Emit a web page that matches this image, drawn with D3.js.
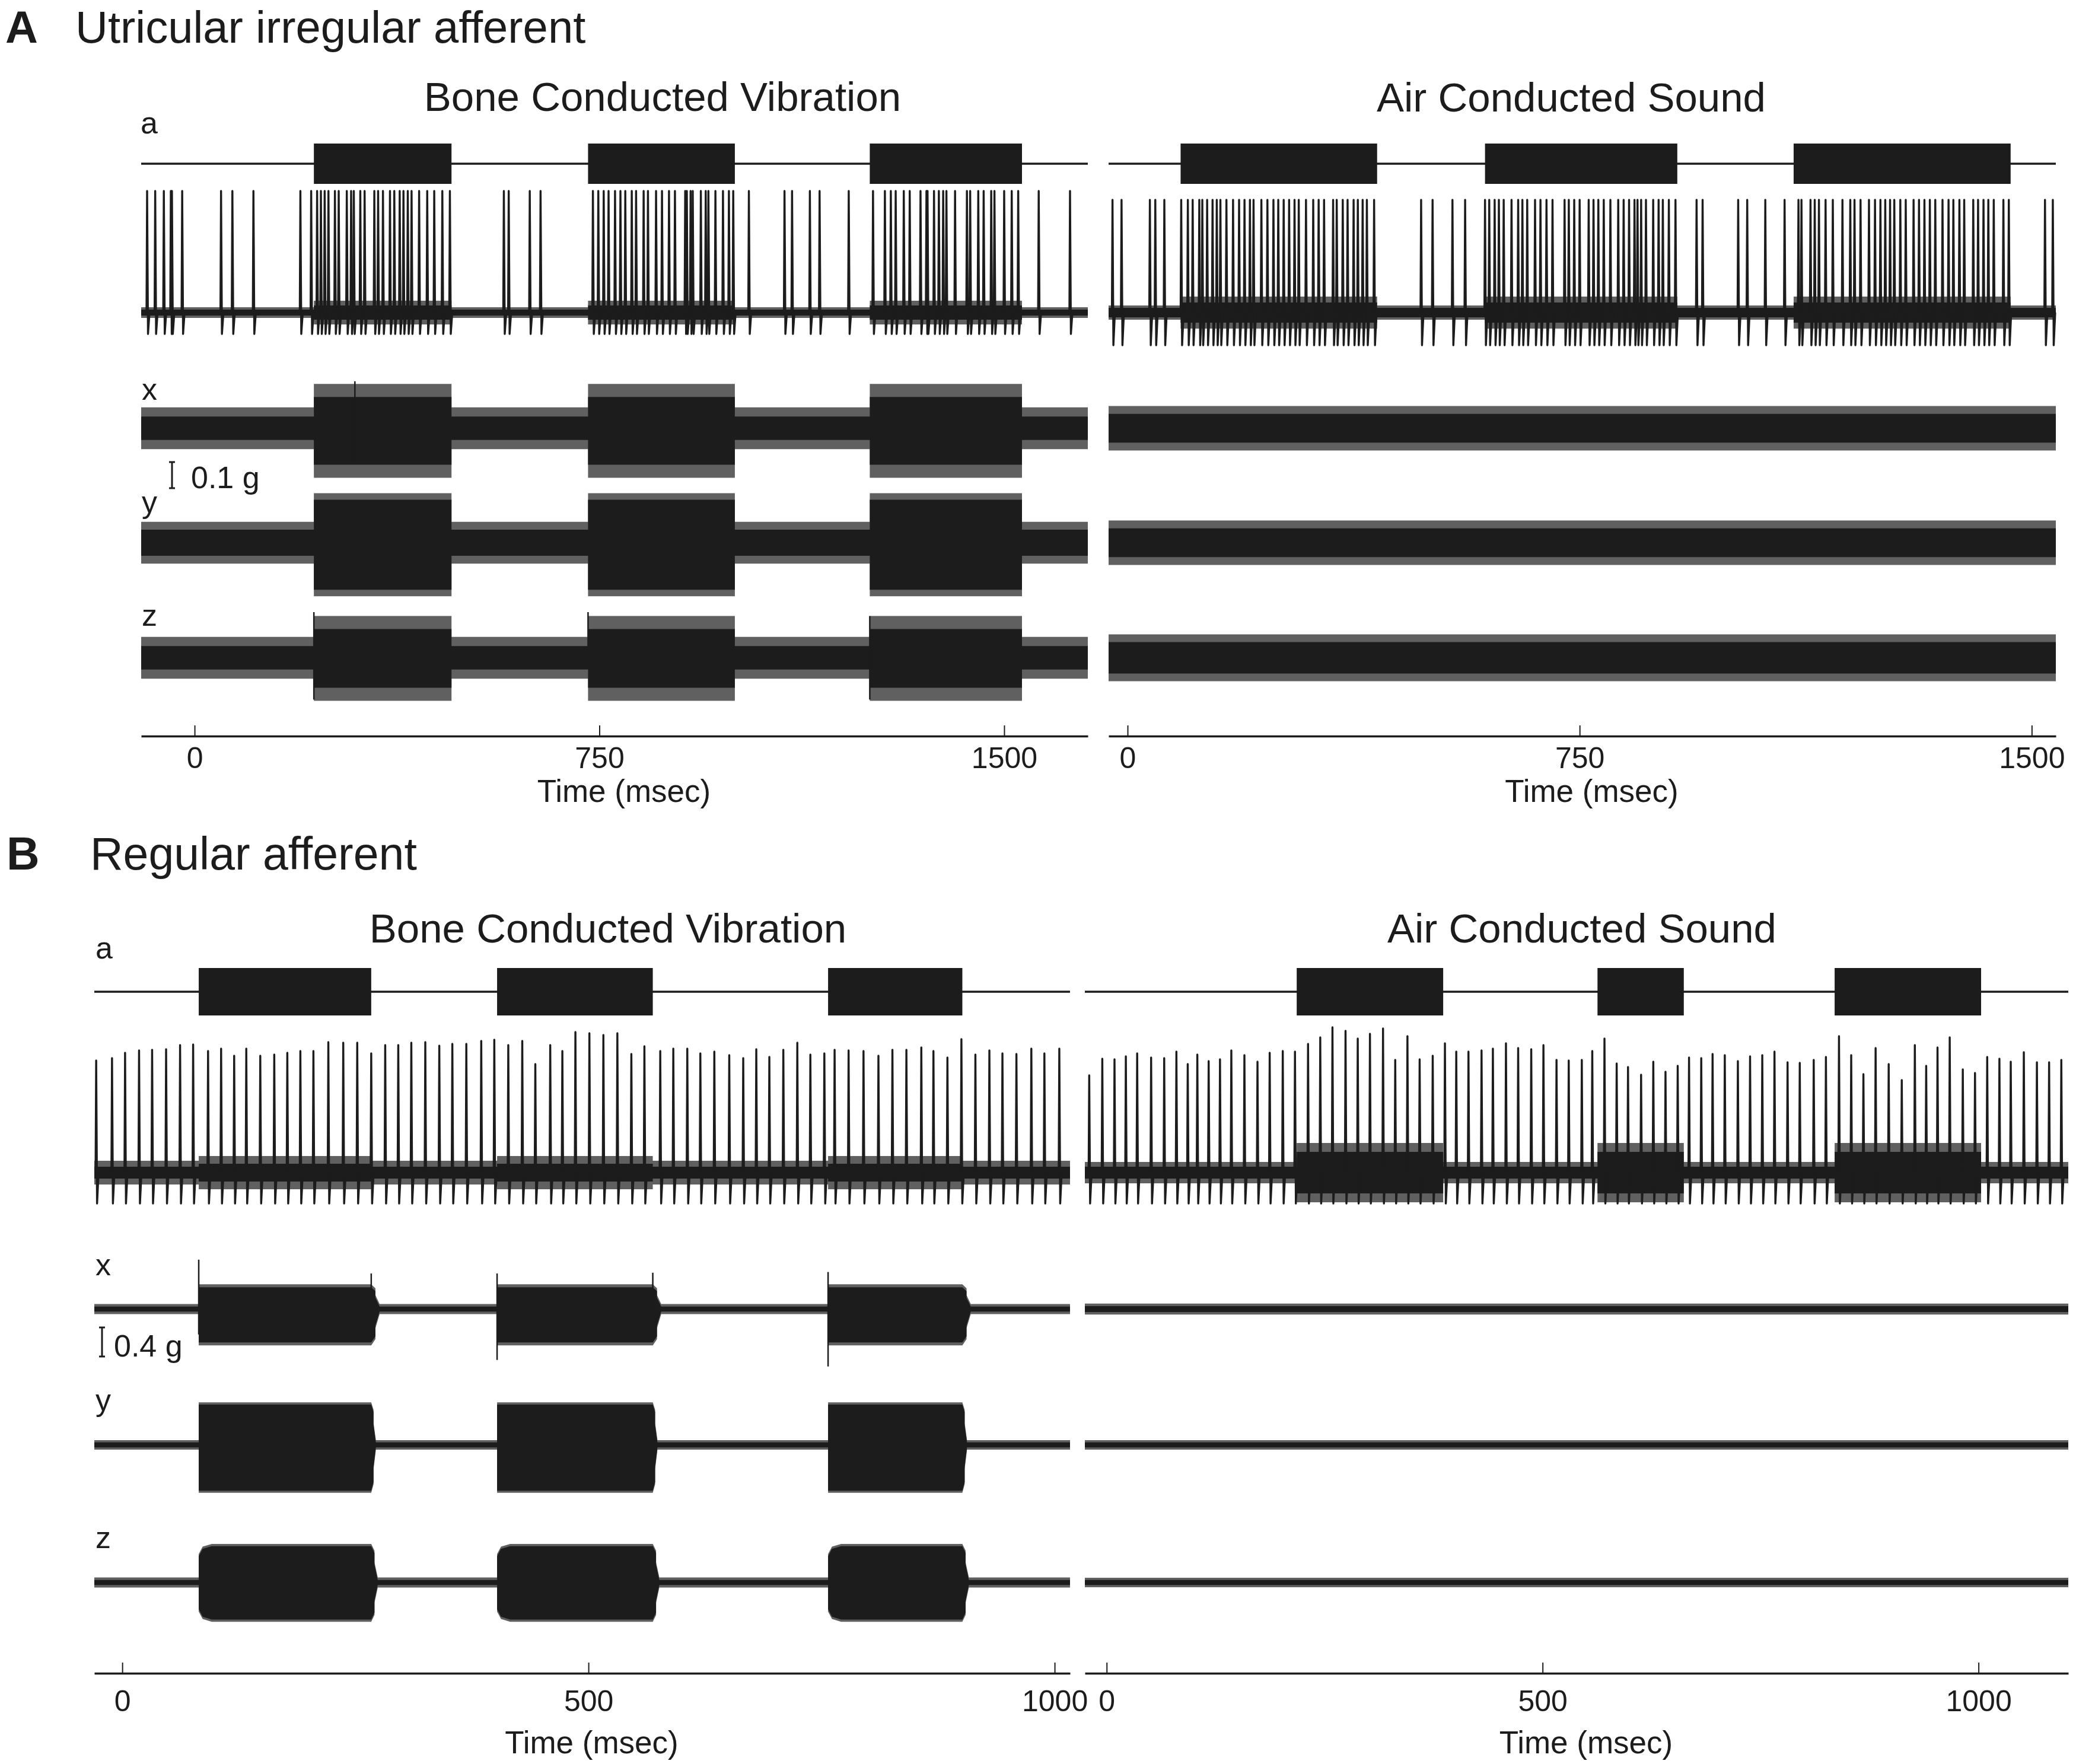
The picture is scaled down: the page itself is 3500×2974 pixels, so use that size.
<!DOCTYPE html>
<html>
<head>
<meta charset="utf-8">
<script src="https://cdn.jsdelivr.net/npm/d3@7"></script>
<style>
  body { margin: 0; background: #fff; }
  svg { display: block; font-family: "Liberation Sans", Arial, sans-serif; }
</style>
</head>
<body>
<svg id="chart" width="3500" height="2974"></svg>
<script>
// ---- time windows shown in each panel (ms) ----
var aLeftWindow = [-99, 1655],
    aRightWindow = [-31.5, 1540],
    bLeftWindow = [-30, 1016.5],
    bRightWindow = [-25, 1103];

var aTicks = [0, 750, 1500],
    bTicks = [0, 500, 1000];

// ---- stimulus on / off (ms) ----
var aLeftStim = [[221, 476], [729, 1001], [1251, 1533]];
var aRightStim = [[88, 414], [593, 912], [1105, 1465]];
var bLeftStim = [[82, 267], [402, 569], [757, 901]];
var bRightStim = [[218, 386], [563, 662], [835, 1003]];

// ---- spike times (ms), panel A: peak / trough same for all spikes ----
var aLeftSpikes = [-88, -73, -57, -44, -42, -23, 49, 70, 109, 196, 216, 227, 234, 241, 248, 260, 267, 282, 290, 295,
  307, 315, 333, 340, 349, 362, 370, 380, 387, 395, 402, 416, 431, 444, 459, 473, 573, 582, 621, 641,
  738, 748, 758, 767, 779, 789, 798, 810, 818, 832, 840, 855, 866, 879, 890, 909, 912, 919, 923, 938,
  947, 952, 965, 979, 990, 998, 1027, 1093, 1107, 1140, 1158, 1212, 1257, 1279, 1290, 1299, 1314, 1325,
  1345, 1356, 1358, 1370, 1379, 1387, 1393, 1409, 1431, 1437, 1452, 1462, 1476, 1482, 1500, 1514, 1526,
  1564, 1622];

var aRightSpikes = [-25, -10, 37, 46, 61, 89, 100, 108, 119, 124, 132, 141, 148, 154, 164, 175, 185, 194, 203, 209,
  222, 232, 242, 250, 259, 268, 277, 284, 296, 308, 317, 326, 341, 347, 357, 365, 375, 382, 390, 397,
  409, 487, 506, 539, 560, 593, 600, 609, 616, 624, 637, 648, 655, 663, 676, 685, 695, 705, 725, 732,
  741, 750, 765, 773, 781, 790, 801, 814, 823, 832, 841, 846, 852, 860, 872, 881, 888, 898, 909, 944,
  954, 1013, 1028, 1058, 1090, 1113, 1118, 1133, 1140, 1147, 1158, 1170, 1186, 1199, 1206, 1216, 1230,
  1240, 1249, 1257, 1265, 1272, 1282, 1291, 1304, 1313, 1322, 1331, 1340, 1352, 1362, 1370, 1380, 1388,
  1403, 1411, 1420, 1428, 1437, 1453, 1462, 1522, 1535];

// [peak, trough] in trace units
var aLeftSpikeShape = [2.05, -0.36],
    aRightSpikeShape = [1.9, -0.55];

// ---- panel B spikes: [time ms, peak] ----
var bLeftSpikes = [[-28, 1.89], [-11, 1.93], [3, 2.02], [18, 2.06], [32, 2.07], [47, 2.08], [62, 2.15], [76, 2.16],
  [92, 2.05], [106, 2.09], [120, 1.97], [133, 2.09], [148, 1.97], [163, 1.99], [177, 2.02], [191, 2.05],
  [205, 2.05], [221, 2.2], [237, 2.19], [252, 2.19], [267, 2.01], [282, 2.15], [296, 2.15], [310, 2.19],
  [325, 2.2], [340, 2.14], [354, 2.17], [369, 2.17], [385, 2.22], [399, 2.24], [414, 2.15], [429, 2.22],
  [443, 1.83], [459, 2.15], [472, 2.05], [486, 2.37], [501, 2.35], [516, 2.32], [531, 2.35], [546, 2.0],
  [560, 2.13], [577, 2.05], [591, 2.09], [606, 2.09], [620, 2.01], [635, 2.04], [651, 1.98], [666, 1.93],
  [680, 2.08], [694, 1.95], [709, 2.07], [724, 2.19], [738, 1.99], [753, 2.01], [764, 2.07], [779, 2.06],
  [795, 2.05], [811, 1.97], [826, 2.07], [841, 2.07], [857, 2.11], [870, 2.05], [885, 1.94], [900, 2.25],
  [915, 1.99], [930, 2.06], [944, 2.01], [959, 2.0], [975, 2.09], [989, 2.01], [1005, 2.09]];

var bRightSpikes = [[-20, 1.64], [-5, 1.92], [9, 1.91], [22, 1.96], [35, 2.01], [51, 1.94], [66, 1.93], [80, 2.04],
  [93, 1.83], [104, 1.99], [117, 1.88], [130, 1.91], [143, 2.06], [158, 1.98], [173, 1.87], [187, 2.02],
  [202, 2.05], [216, 2.04], [231, 2.17], [245, 2.28], [259, 2.45], [274, 2.39], [288, 2.26], [302, 2.34],
  [317, 2.43], [331, 1.9], [345, 2.3], [359, 1.91], [374, 1.97], [388, 2.18], [401, 2.04], [415, 2.04],
  [430, 2.06], [443, 2.09], [458, 2.18], [472, 2.1], [487, 2.08], [501, 2.15], [516, 1.9], [530, 1.89],
  [545, 1.9], [557, 2.05], [571, 2.26], [585, 1.84], [598, 1.78], [613, 1.65], [627, 1.87], [641, 1.7],
  [655, 1.8], [668, 1.94], [682, 1.93], [695, 2.0], [709, 1.98], [724, 1.88], [738, 1.96], [752, 1.98],
  [766, 2.04], [781, 1.86], [795, 1.85], [811, 1.9], [825, 1.95], [840, 2.3], [854, 1.98], [868, 1.66],
  [882, 2.1], [897, 1.83], [912, 1.56], [927, 2.15], [940, 1.8], [953, 2.11], [967, 2.28], [982, 1.74],
  [996, 1.68], [1010, 1.95], [1024, 1.92], [1037, 1.87], [1052, 2.03], [1067, 1.86], [1081, 1.86], [1095, 1.9]];

var bSpikeTrough = -0.52;

// spike-trace noise: [rest core, rest fringe, stim core, stim fringe]
var aLeftSpikeNoise = [0.05, 0.04, 0.12, 0.08],
    aRightSpikeNoise = [0.08, 0.04, 0.17, 0.1],
    bLeftSpikeNoise = [0.1, 0.1, 0.15, 0.13],
    bRightSpikeNoise = [0.1, 0.08, 0.35, 0.15];

// accelerometer envelopes (g):
// [axis, rest core, rest fringe, burst up, burst down, burst fringe, ramp on ms, ramp off ms]
var aLeftAccel = [
  ["x", 0.045, 0.035, 0.12, 0.14, 0.05, 0, 0],
  ["y", 0.05, 0.03, 0.165, 0.18, 0.025, 0, 0],
  ["z", 0.045, 0.035, 0.11, 0.115, 0.05, 0, 0]
];
var aRightAccel = [
  ["x", 0.055, 0.03, 0.055, 0.055, 0.03, 0, 0],
  ["y", 0.055, 0.03, 0.055, 0.055, 0.03, 0, 0],
  ["z", 0.06, 0.03, 0.06, 0.06, 0.03, 0, 0]
];
var bLeftAccel = [
  ["x", 0.035, 0.035, 0.30, 0.46, 0.04, 0, 9],
  ["y", 0.035, 0.03, 0.555, 0.63, 0.03, 0, 5],
  ["z", 0.035, 0.035, 0.50, 0.51, 0.03, 14, 7]
];
var bRightAccel = [
  ["x", 0.04, 0.035, 0.04, 0.04, 0.035, 0, 0],
  ["y", 0.035, 0.03, 0.035, 0.035, 0.03, 0, 0],
  ["z", 0.035, 0.03, 0.035, 0.035, 0.03, 0, 0]
];

// onset transients: [time ms, up g, down g]
var aLeftXTransients = [[297, 0.18, 0.13]];
var aLeftZTransients = [[221, 0.175, 0.16], [729, 0.175, 0.0], [1251, 0.16, 0.16]];
var bLeftXTransients = [[82, 0.68, 0.35], [267, 0.49, 0.0], [402, 0.49, 0.70], [569, 0.50, 0.0], [757, 0.51, 0.79]];

////////////////////////////////////////////////////////////////////////////

var ink = "#1c1c1c";
var svg = d3.select("#chart");

var rowsA = { stim: 276, stimHalf: 34, spike: 527, accel: [722, 915, 1109], axis: 1241,
              pxPerG: 440, labelPad: 18, titleY: 1352 },
    rowsB = { stim: 1672, stimHalf: 40, spike: 1977, accel: [2207, 2436, 2668], axis: 2821,
              pxPerG: 122.5, labelPad: 28, titleY: 2956 };

var panels = [
  { rows: rowsA, range: [238, 1834], domain: aLeftWindow, ticks: aTicks, stim: aLeftStim,
    spikes: aLeftSpikes.map(function(t){ return [t, aLeftSpikeShape[0]]; }), trough: aLeftSpikeShape[1],
    spikeNoise: aLeftSpikeNoise, accel: aLeftAccel, transients: { x: aLeftXTransients, z: aLeftZTransients } },
  { rows: rowsA, range: [1869, 3466], domain: aRightWindow, ticks: aTicks, stim: aRightStim,
    spikes: aRightSpikes.map(function(t){ return [t, aRightSpikeShape[0]]; }), trough: aRightSpikeShape[1],
    spikeNoise: aRightSpikeNoise, accel: aRightAccel, transients: {} },
  { rows: rowsB, range: [159, 1804], domain: bLeftWindow, ticks: bTicks, stim: bLeftStim,
    spikes: bLeftSpikes, trough: bSpikeTrough,
    spikeNoise: bLeftSpikeNoise, accel: bLeftAccel, transients: { x: bLeftXTransients } },
  { rows: rowsB, range: [1829, 3487], domain: bRightWindow, ticks: bTicks, stim: bRightStim,
    spikes: bRightSpikes, trough: bSpikeTrough,
    spikeNoise: bRightSpikeNoise, accel: bRightAccel, transients: {} }
];

// piecewise envelope following the stimulus windows (rounded on/off corners)
function envelope(win, stim, restUp, restDown, burstUp, burstDown, rampOn, rampOff){
  var pts = [{ t: win[0], up: restUp, down: restDown }];
  function mix(f){ return { up: restUp + (burstUp - restUp) * f, down: restDown + (burstDown - restDown) * f }; }
  function pt(t, f){ var m = mix(f); return { t: t, up: m.up, down: m.down }; }
  stim.forEach(function(s){
    pts.push(pt(s[0], 0));
    if (rampOn > 0) {
      pts.push(pt(s[0], 0.7));
      pts.push(pt(s[0] + rampOn * 0.3, 0.92));
    }
    pts.push(pt(s[0] + rampOn, 1));
    pts.push(pt(s[1], 1));
    if (rampOff > 0) {
      pts.push(pt(s[1] + rampOff * 0.5, 0.8));
      pts.push(pt(s[1] + rampOff * 0.5, 0.45));
    }
    pts.push(pt(Math.min(s[1] + rampOff, win[1]), 0));
  });
  pts.push(pt(win[1], 0));
  return pts;
}

function band(g, x, y, pts, opacity){
  var area = d3.area()
    .x(function(d){ return x(d.t); })
    .y0(function(d){ return y(-d.down); })
    .y1(function(d){ return y(d.up); });
  g.append("path").attr("d", area(pts)).attr("fill", ink).attr("fill-opacity", opacity);
}

function drawPanel(p){
  var r = p.rows;
  var x = d3.scaleLinear().domain(p.domain).range(p.range);
  var g = svg.append("g");

  // stimulus trace
  g.append("line")
    .attr("x1", p.range[0]).attr("x2", p.range[1])
    .attr("y1", r.stim).attr("y2", r.stim)
    .attr("stroke", ink).attr("stroke-width", 3.5);
  g.selectAll(".stim").data(p.stim).enter().append("rect")
    .attr("class", "stim")
    .attr("x", function(d){ return x(d[0]); })
    .attr("width", function(d){ return x(d[1]) - x(d[0]); })
    .attr("y", r.stim - r.stimHalf)
    .attr("height", 2 * r.stimHalf)
    .attr("fill", ink);

  // spike trace
  var ys = d3.scaleLinear().domain([-1, 1]).range([r.spike + 100, r.spike - 100]);
  var n = p.spikeNoise;
  band(g, x, ys, envelope(p.domain, p.stim, n[0] + n[1], n[0] + n[1], n[2] + n[3], n[2] + n[3], 0, 0), 0.7);
  band(g, x, ys, envelope(p.domain, p.stim, n[0], n[0], n[2], n[2], 0, 0), 1);

  var spikeLine = d3.line();
  g.selectAll(".spike").data(p.spikes).enter().append("path")
    .attr("class", "spike")
    .attr("d", function(d){
      var px = x(d[0]);
      return spikeLine([[px - 1, ys(0)], [px, ys(d[1])], [px + 1.5, ys(p.trough)], [px + 4, ys(0)]]);
    })
    .attr("fill", "none").attr("stroke", ink)
    .attr("stroke-width", 3.4).attr("stroke-linejoin", "round");

  // accelerometer traces
  p.accel.forEach(function(a, i){
    var cy = r.accel[i];
    var ya = d3.scaleLinear().domain([-1, 1]).range([cy + r.pxPerG, cy - r.pxPerG]);
    band(g, x, ya, envelope(p.domain, p.stim, a[1] + a[2], a[1] + a[2], a[3] + a[5], a[4] + a[5], a[6], a[7]), 0.7);
    band(g, x, ya, envelope(p.domain, p.stim, a[1], a[1], a[3], a[4], a[6], a[7]), 1);
    var tr = p.transients[a[0]] || [];
    g.selectAll(".tr-" + a[0]).data(tr).enter().append("line")
      .attr("class", "tr-" + a[0])
      .attr("x1", function(d){ return x(d[0]); })
      .attr("x2", function(d){ return x(d[0]); })
      .attr("y1", function(d){ return ya(d[1]); })
      .attr("y2", function(d){ return ya(-d[2]); })
      .attr("stroke", ink).attr("stroke-width", 2.5);
  });

  // time axis, ticks pointing up
  var axis = d3.axisBottom(x)
    .tickValues(p.ticks)
    .tickFormat(d3.format("d"))
    .tickSizeInner(-18)
    .tickSizeOuter(0)
    .tickPadding(r.labelPad);
  var ax = g.append("g")
    .attr("transform", "translate(0," + r.axis + ")")
    .call(axis);
  ax.select(".domain").attr("stroke", ink).attr("stroke-width", 3.5);
  ax.selectAll(".tick line").attr("stroke", ink).attr("stroke-width", 2);
  ax.selectAll(".tick text")
    .attr("fill", ink)
    .style("font-family", "Liberation Sans, Arial, sans-serif")
    .style("font-size", "50px");

  g.append("text")
    .attr("x", (p.range[0] + p.range[1]) / 2 + 16)
    .attr("y", r.titleY)
    .attr("text-anchor", "middle")
    .attr("font-size", 53)
    .attr("fill", ink)
    .text("Time (msec)");
}

panels.forEach(drawPanel);

// ---- texts ----
function label(txt, x, y, size, opts){
  opts = opts || {};
  svg.append("text")
    .attr("x", x).attr("y", y)
    .attr("font-size", size)
    .attr("font-weight", opts.bold ? "bold" : "normal")
    .attr("text-anchor", opts.anchor || "start")
    .attr("fill", ink)
    .text(txt);
}

label("A", 9, 72, 76, { bold: true });
label("Utricular irregular afferent", 127, 72, 76);
label("Bone Conducted Vibration", 1117, 187, 69, { anchor: "middle" });
label("Air Conducted Sound", 2649, 188, 69, { anchor: "middle" });
label("a", 237, 225, 52);
label("x", 239, 674, 52);
label("y", 239, 864, 52);
label("z", 239, 1055, 52);

label("B", 11, 1466, 77, { bold: true });
label("Regular afferent", 152, 1466, 77);
label("Bone Conducted Vibration", 1025, 1589, 69, { anchor: "middle" });
label("Air Conducted Sound", 2667, 1589, 69, { anchor: "middle" });
label("a", 161, 1616, 52);
label("x", 161, 2150, 52);
label("y", 161, 2378, 52);
label("z", 161, 2610, 52);

// scale bars
function scaleBar(x, yTop, g, pxPerG, txt, tx){
  var h = g * pxPerG;
  svg.append("path")
    .attr("d", "M" + (x - 5) + "," + yTop + "H" + (x + 5) + "M" + x + "," + yTop + "V" + (yTop + h) +
               "M" + (x - 5) + "," + (yTop + h) + "H" + (x + 5))
    .attr("stroke", ink).attr("stroke-width", 3).attr("fill", "none");
  label(txt, tx, yTop + h, 52);
}
scaleBar(290, 779, 0.1, rowsA.pxPerG, "0.1 g", 322);
scaleBar(172, 2238, 0.4, rowsB.pxPerG, "0.4 g", 192);
</script>
</body>
</html>
